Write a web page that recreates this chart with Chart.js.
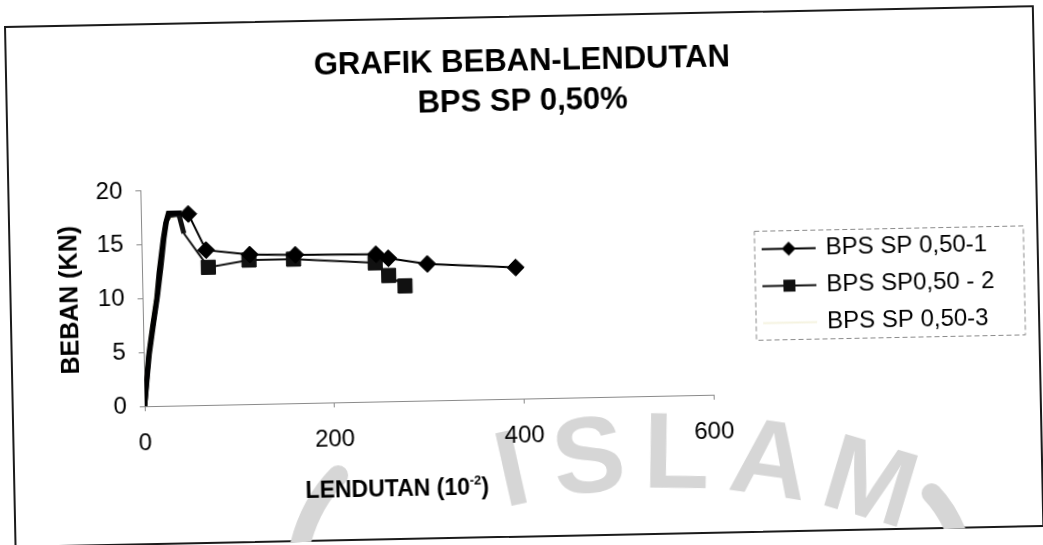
<!DOCTYPE html>
<html lang="id">
<head>
<meta charset="utf-8">
<title>Grafik Beban-Lendutan BPS SP 0,50%</title>
<script src="https://cdn.jsdelivr.net/npm/chart.js@4.4.1/dist/chart.umd.min.js"></script>
<style>
  html, body { margin: 0; padding: 0; background: #fff; }
  body { width: 1043px; height: 545px; overflow: hidden; position: relative; }
  /* the printed sheet sits a little crooked on the page */
  #sheet { position: absolute; left: 4px; top: 26px; width: 1036px; height: 522px;
           transform-origin: 0 0; transform: rotate(-1.16deg); }
  #sheet .edge { position: absolute; left: 0; top: 0; width: 1030px; height: 522px;
                 box-sizing: border-box; border: 2px solid #1b1b1b; }
  #sheet canvas { position: absolute; left: 0; top: 0; }
</style>
</head>
<body>
<div id="sheet">
  <div class="edge"></div>
  <canvas id="chart" width="1036" height="522"></canvas>
</div>
<script>
const FONT = "'Liberation Sans', Arial, Helvetica, sans-serif";
Chart.defaults.font.family = FONT;
Chart.defaults.color = '#000';

const seriesNames = ['BPS SP 0,50-1', 'BPS SP0,50 - 2', 'BPS SP 0,50-3'];

// lendutan (x 10^-2) and beban (kN) readings per specimen
const s1Lendutan = [0, 5, 10, 15, 18, 23, 26, 29, 36, 43, 50, 68, 114, 162, 247, 260, 301, 394];
const s1Beban    = [0, 4.6, 7.4, 10.0, 12.4, 15.5, 17.0, 17.9, 17.9, 17.9, 17.8, 14.4, 13.9, 13.8, 13.7, 13.3, 12.7, 12.2];

const s2Lendutan = [0, 6, 11, 16, 20, 24, 27, 30, 40, 45, 70, 113, 160, 246, 260, 277];
const s2Beban    = [0, 4.8, 7.6, 10.3, 12.8, 15.6, 17.2, 17.7, 17.8, 16.0, 12.8, 13.4, 13.4, 12.9, 11.7, 10.7];

const s3Lendutan = [0, 4, 8, 13, 17, 22, 25, 28, 35];
const s3Beban    = [0, 3.6, 6.4, 9.2, 11.6, 14.6, 16.4, 17.5, 17.6];

const xTicks = [0, 200, 400, 600];
const yTicks = [0, 5, 10, 15, 20];

// readings before this deflection belong to the dense loading branch (no markers)
const PEAK_ZONE = 46;

const toPoints = (xs, ys) => xs.map((x, i) => ({ x, y: ys[i] }));

function legendIcon(kind, color) {
  const c = document.createElement('canvas');
  c.width = 56; c.height = 20;
  const g = c.getContext('2d');
  g.strokeStyle = color; g.fillStyle = color; g.lineWidth = 2;
  g.beginPath(); g.moveTo(1, 10); g.lineTo(55, 10); g.stroke();
  if (kind === 'diamond') {
    g.beginPath(); g.moveTo(28, 3); g.lineTo(35, 10); g.lineTo(28, 17); g.lineTo(21, 10);
    g.closePath(); g.fill();
  } else if (kind === 'square') {
    g.fillRect(22, 4, 12, 12);
  }
  return c;
}
const legendIcons = [legendIcon('diamond', '#000'), legendIcon('square', '#111'), legendIcon(null, '#f5f3e0')];

function seriesStyle(color, shape, size) {
  return {
    showLine: true,
    borderColor: color,
    backgroundColor: color,
    pointStyle: shape,
    pointBackgroundColor: color,
    pointBorderColor: color,
    pointBorderWidth: 1,
    pointRadius: ctx => (ctx.raw && ctx.raw.x < PEAK_ZONE ? 0 : size),
    pointHoverRadius: ctx => (ctx.raw && ctx.raw.x < PEAK_ZONE ? 0 : size),
    borderWidth: 2,
    segment: { borderWidth: ctx => (ctx.p1.parsed.x < PEAK_ZONE ? 5 : 2) },
    tension: 0
  };
}

// faint university seal printed on the paper behind the chart
const sealPrint = {
  id: 'sealPrint',
  beforeDraw(chart) {
    const ctx = chart.ctx;
    const cx = 640, cy = 1150, r = 675;
    const letters = [['I', -11.5], ['S', -5.2], ['L', 1.9], ['A', 9.5], ['M', 17.8]];
    ctx.save();
    ctx.fillStyle = '#d6d6d6';
    ctx.strokeStyle = '#d6d6d6';
    ctx.font = 'bold 108px ' + FONT;
    ctx.textAlign = 'center';
    ctx.textBaseline = 'alphabetic';
    letters.forEach(([ch, deg]) => {
      const a = deg * Math.PI / 180;
      ctx.save();
      ctx.translate(cx + r * Math.sin(a), cy - r * Math.cos(a));
      ctx.rotate(a);
      ctx.fillText(ch, 0, 0);
      ctx.restore();
    });
    // pieces of the outer ring
    ctx.lineWidth = 20;
    ctx.lineCap = 'round';
    ctx.beginPath();
    ctx.moveTo(282, 540); ctx.quadraticCurveTo(292, 488, 325, 456);
    ctx.moveTo(918, 486); ctx.quadraticCurveTo(940, 510, 950, 552);
    ctx.stroke();
    ctx.restore();
  }
};

// legend drawn in the space kept free right of the plot
const sideLegend = {
  id: 'sideLegend',
  afterDraw(chart) {
    const { ctx, chartArea } = chart;
    const mid = (chartArea.top + chartArea.bottom) / 2;
    const rowGap = 37;
    const iconX = chartArea.right + 78;
    const textX = chartArea.right + 115;
    ctx.save();
    ctx.fillStyle = '#000';
    ctx.font = '24px ' + FONT;
    ctx.textAlign = 'left';
    ctx.textBaseline = 'middle';
    chart.data.datasets.forEach((ds, i) => {
      const y = mid + (i - 1) * rowGap;
      const icon = legendIcons[i];
      ctx.drawImage(icon, iconX - icon.width / 2, y - icon.height / 2);
      ctx.fillText(ds.label, textX, y);
    });
    ctx.strokeStyle = '#8a8a8a';
    ctx.lineWidth = 1;
    ctx.setLineDash([5, 3]);
    const left = chartArea.right + 44, right = chartArea.right + 313;
    ctx.strokeRect(left, mid - 55, right - left, 109);
    ctx.restore();
  }
};

// x axis caption with a raised exponent
const xCaption = {
  id: 'xCaption',
  afterDraw(chart) {
    const { ctx, chartArea } = chart;
    const head = 'LENDUTAN (10', sup = '-2', tail = ')';
    const big = 'bold 23px ' + FONT, small = 'bold 13px ' + FONT;
    ctx.save();
    ctx.fillStyle = '#000';
    ctx.textAlign = 'left';
    ctx.textBaseline = 'alphabetic';
    ctx.font = big;
    const w1 = ctx.measureText(head).width, w3 = ctx.measureText(tail).width;
    ctx.font = small;
    const w2 = ctx.measureText(sup).width;
    const mid = chartArea.left + (chartArea.right - chartArea.left) * 0.441;
    let x = mid - (w1 + w2 + w3) / 2;
    const y = chartArea.bottom + 95;
    ctx.font = big; ctx.fillText(head, x, y); x += w1;
    ctx.font = small; ctx.fillText(sup, x, y - 10); x += w2;
    ctx.font = big; ctx.fillText(tail, x, y);
    ctx.restore();
  }
};

const axisGrey = '#8a8a8a';

new Chart(document.getElementById('chart'), {
  type: 'scatter',
  data: {
    datasets: [
      Object.assign({ label: seriesNames[0], data: toPoints(s1Lendutan, s1Beban), order: 1 },
                    seriesStyle('#000', 'rectRot', 8.5)),
      Object.assign({ label: seriesNames[1], data: toPoints(s2Lendutan, s2Beban), order: 2 },
                    seriesStyle('#111', 'rect', 10)),
      Object.assign({ label: seriesNames[2], data: toPoints(s3Lendutan, s3Beban), order: 3 },
                    seriesStyle('#f5f3e0', 'circle', 0))
    ]
  },
  options: {
    responsive: false,
    animation: false,
    devicePixelRatio: 1,
    layout: { padding: { left: 30, right: 32, top: 0, bottom: 0 } },
    plugins: {
      title: {
        display: true,
        text: ['GRAFIK BEBAN-LENDUTAN', 'BPS SP 0,50%'],
        color: '#000',
        font: { size: 31, weight: 'bold', lineHeight: 1.29 },
        padding: { top: 26, bottom: 62 }
      },
      legend: { display: false },
      tooltip: { enabled: false }
    },
    scales: {
      x: {
        type: 'linear',
        min: xTicks[0],
        max: xTicks[xTicks.length - 1],
        ticks: { stepSize: xTicks[1] - xTicks[0], font: { size: 24 }, padding: 18, maxRotation: 0 },
        grid: { drawOnChartArea: false, tickLength: 5, color: axisGrey },
        border: { color: axisGrey, dash: [5, 3] },
        afterFit: s => { s.height = 139; }
      },
      y: {
        type: 'linear',
        min: yTicks[0],
        max: yTicks[yTicks.length - 1],
        ticks: { stepSize: yTicks[1] - yTicks[0], font: { size: 24 }, padding: 13 },
        grid: { drawOnChartArea: false, tickLength: 5, color: axisGrey },
        border: { color: axisGrey },
        title: {
          display: true,
          text: 'BEBAN (KN)',
          color: '#000',
          font: { size: 25, weight: 'bold' },
          padding: { top: 16, bottom: 0 }
        },
        afterFit: s => { s.width = 103; }
      },
      legendRoom: {
        type: 'linear',
        position: 'right',
        display: true,
        ticks: { display: false },
        grid: { display: false },
        border: { display: false },
        afterFit: s => { s.width = 302; }
      }
    }
  },
  plugins: [sealPrint, sideLegend, xCaption]
});
</script>
</body>
</html>
